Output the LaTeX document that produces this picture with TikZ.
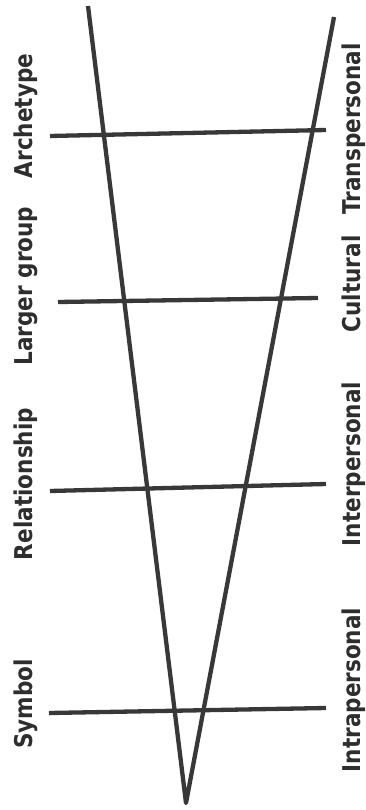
\documentclass[tikz,border=0pt]{standalone}
\usepackage{fontspec}
\setsansfont{DejaVu Sans}[FakeStretch=0.88]
\begin{document}
\begin{tikzpicture}[x=1pt,y=-1pt,
  bar/.style={draw=black!78, line width=4.3pt},
  lab/.style={rotate=90, anchor=base, inner sep=0pt, text=black!82,
    font=\sffamily\bfseries\fontsize{24.5}{27}\selectfont}]
\useasboundingbox[fill=white] (0,0) rectangle (366,810);
% V lines
\coordinate (lt) at (88,6);
\coordinate (rt) at (334,17);
\coordinate (apex) at (186,803);
\draw[bar, line join=round] (lt) -- (apex) -- (rt);
% horizontal bars
\coordinate (a1) at (50,136);  \coordinate (a2) at (326,130);
\coordinate (b1) at (58,302);  \coordinate (b2) at (318,298);
\coordinate (c1) at (50,491);  \coordinate (c2) at (326,484);
\coordinate (d1) at (49,713);  \coordinate (d2) at (326,708);
\draw[bar] (a1) -- (a2);
\draw[bar] (b1) -- (b2);
\draw[bar] (c1) -- (c2);
\draw[bar] (d1) -- (d2);
% left labels
\node[lab] (arch) at (32,116) {Archetype};
\node[lab] (larg) at (32,286) {Larger group};
\node[lab] (rela) at (32,484) {Relationship};
\node[lab] (symb) at (32,704) {Symbol};
% right labels
\node[lab] (tran) at (360,129) {Transpersonal};
\node[lab] (cult) at (360,284) {Cultural};
\node[lab] (inte) at (360,464) {Interpersonal};
\node[lab] (intr) at (360,690) {Intrapersonal};
\end{tikzpicture}
\end{document}
